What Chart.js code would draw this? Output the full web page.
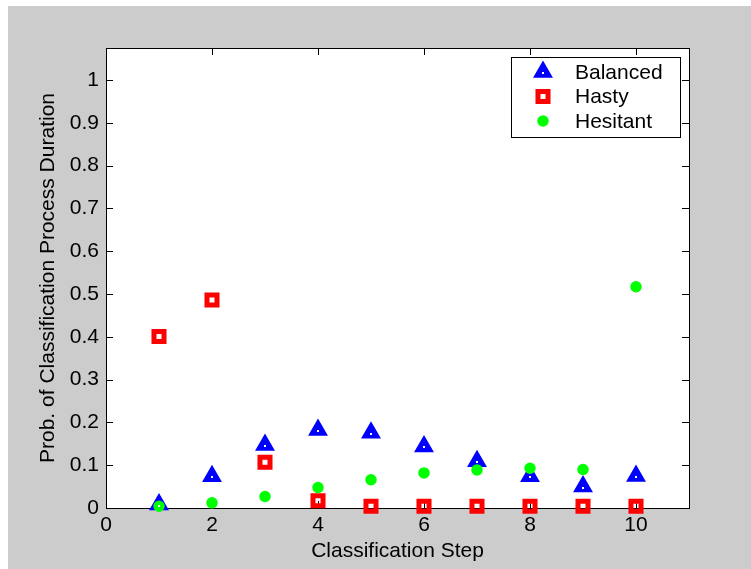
<!DOCTYPE html>
<html><head><meta charset="utf-8">
<script src="https://cdn.jsdelivr.net/npm/chart.js@4/dist/chart.umd.min.js"></script>
<style>
html,body{margin:0;padding:0;background:#fff;width:751px;height:569px;overflow:hidden}
#wrap{position:absolute;left:8px;top:6px;width:743px;height:563px}
</style></head><body>
<div id="wrap"><canvas id="c" width="743" height="563"></canvas></div>
<script>
const steps = [1,2,3,4,5,6,7,8,9,10];
const balanced = [0.008,0.074,0.147,0.182,0.176,0.144,0.109,0.074,0.050,0.075];
const hasty = [0.401,0.486,0.107,0.017,0.004,0.004,0.004,0.004,0.004,0.004];
const hesitant = [0.004,0.012,0.027,0.048,0.066,0.082,0.089,0.093,0.090,0.517];
const seriesNames = ['Balanced','Hasty','Hesitant'];
const xTickValues = [0,2,4,6,8,10];
const xTickLabels = ['0','2','4','6','8','10'];
const yTickValues = [0,0.1,0.2,0.3,0.4,0.5,0.6,0.7,0.8,0.9,1];
const yTickLabels = ['0','0.1','0.2','0.3','0.4','0.5','0.6','0.7','0.8','0.9','1'];
const xTitle = 'Classification Step';
const yTitle = 'Prob. of Classification Process Duration';

const FONT = 'Liberation Sans, Arial, sans-serif';
Chart.defaults.font.family = FONT;
Chart.defaults.font.size = 21;
Chart.defaults.color = '#000';

const toPts = arr => steps.map((s,i)=>({x:s,y:arr[i]}));

const styles = [
  {pointStyle:'triangle', pointRadius:9.5, pointBackgroundColor:'#0000ff', pointBorderColor:'#0000ff', pointBorderWidth:2},
  {pointStyle:'rect', pointRadius:7.1, pointBackgroundColor:'rgba(0,0,0,0)', pointBorderColor:'#ff0000', pointBorderWidth:5},
  {pointStyle:'circle', pointRadius:4.5, pointBackgroundColor:'#00ff00', pointBorderColor:'#00ff00', pointBorderWidth:2.5}
];

const bgPlugin = {
  id:'bg',
  beforeDraw(chart){
    const {ctx, chartArea:a} = chart;
    ctx.save();
    ctx.fillStyle = '#cccccc';
    ctx.fillRect(0,0,chart.width,chart.height);
    ctx.fillStyle = '#ffffff';
    ctx.fillRect(a.left,a.top,a.right-a.left,a.bottom-a.top);
    ctx.restore();
  }
};

const framePlugin = {
  id:'frame',
  beforeDatasetsDraw(chart){
    const {ctx, chartArea:a, scales} = chart;
    const L = 7;
    ctx.save();
    ctx.strokeStyle = '#000';
    ctx.lineWidth = 1;
    ctx.beginPath();
    xTickValues.forEach(v=>{
      const px = Math.round(scales.x.getPixelForValue(v))+0.5;
      ctx.moveTo(px,a.bottom); ctx.lineTo(px,a.bottom-L);
      ctx.moveTo(px,a.top); ctx.lineTo(px,a.top+L);
    });
    yTickValues.forEach(v=>{
      const py = Math.round(scales.y.getPixelForValue(v))+0.5;
      ctx.moveTo(a.left,py); ctx.lineTo(a.left+L,py);
      ctx.moveTo(a.right,py); ctx.lineTo(a.right-L,py);
    });
    ctx.stroke();
    ctx.strokeRect(Math.round(a.left)+0.5, Math.round(a.top)+0.5, Math.round(a.right-a.left), Math.round(a.bottom-a.top));
    ctx.restore();
  },
  afterDatasetsDraw(chart){
    const ctx = chart.ctx;
    const meta = chart.getDatasetMeta(0);
    ctx.save();
    ctx.fillStyle = '#fff';
    meta.data.forEach(p=>{ ctx.fillRect(Math.round(p.x)-1, Math.round(p.y), 2, 2); });
    ctx.restore();
  }
};

const legendPlugin = {
  id:'boxLegend',
  afterDraw(chart){
    const {ctx, chartArea:a} = chart;
    const w = 169, h = 80;
    const left = a.right - 9 - w, top = a.top + 9;
    ctx.save();
    ctx.fillStyle = '#fff';
    ctx.fillRect(left, top, w, h);
    ctx.strokeStyle = '#000';
    ctx.lineWidth = 1;
    ctx.strokeRect(Math.round(left)+0.5, Math.round(top)+0.5, w, h);
    ctx.font = '21px ' + FONT;
    ctx.textBaseline = 'middle';
    seriesNames.forEach((name,i)=>{
      const y = top + 15 + i*24.5;
      const s = styles[i];
      ctx.fillStyle = s.pointBackgroundColor; ctx.strokeStyle = s.pointBorderColor; ctx.lineWidth = s.pointBorderWidth;
      Chart.helpers.drawPoint(ctx, {pointStyle:s.pointStyle, radius:s.pointRadius, borderWidth:s.pointBorderWidth, rotation:0}, left+32, y);
      if (i===0){ ctx.fillStyle='#fff'; ctx.fillRect(left+31, y, 2, 2); }
      ctx.fillStyle = '#000';
      ctx.fillText(name, left + 64, y + 1);
    });
    ctx.restore();
  }
};

new Chart(document.getElementById('c'), {
  type:'scatter',
  data:{
    datasets:[
      Object.assign({label:seriesNames[0], data:toPts(balanced), order:2, clip:false}, styles[0]),
      Object.assign({label:seriesNames[1], data:toPts(hasty), order:1, clip:false}, styles[1]),
      Object.assign({label:seriesNames[2], data:toPts(hesitant), order:0, clip:false}, styles[2])
    ]
  },
  options:{
    responsive:false,
    animation:false,
    layout:{padding:{left:0, top:42, right:62, bottom:0}},
    plugins:{legend:{display:false}, tooltip:{enabled:false}},
    elements:{point:{hoverRadius:0}},
    scales:{
      x:{
        type:'linear', min:0, max:11,
        grid:{display:false, drawTicks:false}, border:{display:false},
        afterBuildTicks(s){ s.ticks = xTickValues.map(v=>({value:v})); },
        ticks:{padding:5, maxRotation:0, autoSkip:false, callback:(v,i)=>xTickLabels[i]},
        title:{display:true, text:xTitle, font:{size:21}, padding:{top:0,bottom:5}},
        afterFit(s){ s.height = 61; }
      },
      y:{
        type:'linear', min:0, max:1.075,
        grid:{display:false, drawTicks:false}, border:{display:false},
        afterBuildTicks(s){ s.ticks = yTickValues.map(v=>({value:v})); },
        ticks:{padding:7, autoSkip:false, callback:(v,i)=>yTickLabels[i]},
        title:{display:true, text:yTitle, font:{size:21}, padding:{top:28,bottom:0}},
        afterFit(s){ s.width = 98; }
      }
    }
  },
  plugins:[bgPlugin, framePlugin, legendPlugin]
});
</script>
</body></html>
